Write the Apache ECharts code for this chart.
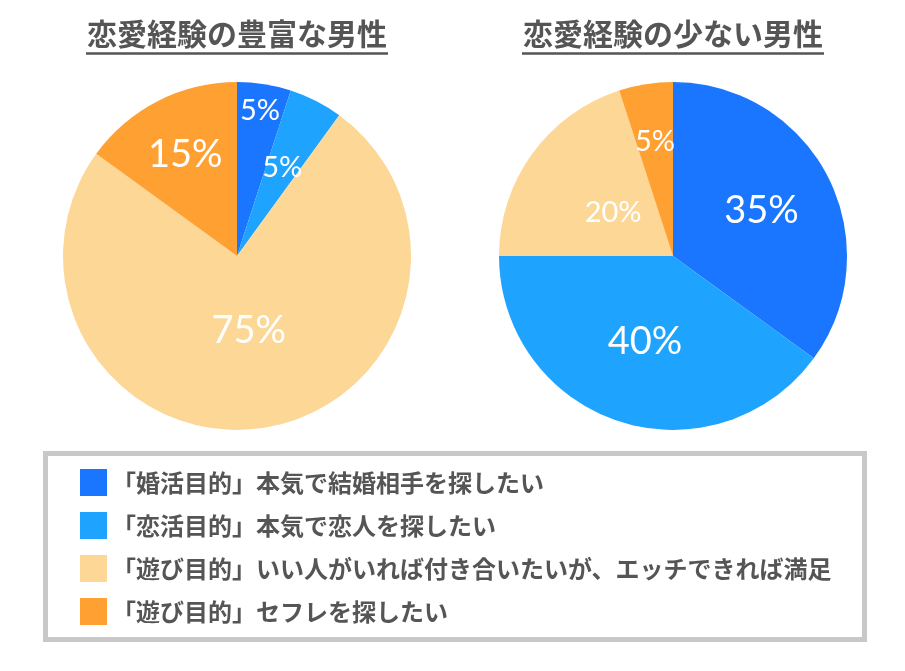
<!DOCTYPE html>
<html>
<head>
<meta charset="utf-8">
<script src="https://cdn.jsdelivr.net/npm/echarts@6/dist/echarts.min.js"></script>
<style>
  html, body { margin: 0; padding: 0; background: #ffffff; }
  #chart { width: 905px; height: 671px; }
</style>
</head>
<body>
<div id="chart"></div>
<script>
// ---- data ----
const categories = [
  '「婚活目的」本気で結婚相手を探したい',
  '「恋活目的」本気で恋人を探したい',
  '「遊び目的」いい人がいれば付き合いたいが、エッチできれば満足',
  '「遊び目的」セフレを探したい'
];
const experiencedValues = [5, 5, 75, 15];
const inexperiencedValues = [35, 40, 20, 5];
const chartTitles = ['恋愛経験の豊富な男性', '恋愛経験の少ない男性'];

// ---- styles ----
const colors = ['#1a75ff', '#1ea4ff', '#fdd795', '#ffa033'];
const pieCenters = [[237, 256], [673, 256]];
const pieRadius = 174;
const labelRadiusFactor = [[0.846, 0.573, 0.433, 0.656], [0.571, 0.52, 0.425, 0.664]];
const labelFontSizes = [[29, 29, 38, 38], [38, 38, 29, 29]];
const textGray = '#555555';

const seriesValues = [experiencedValues, inexperiencedValues];

function buildSeries(si) {
  return {
    type: 'pie',
    center: pieCenters[si],
    radius: pieRadius,
    startAngle: 90,
    clockwise: true,
    avoidLabelOverlap: false,
    silent: true,
    animation: false,
    label: {
      show: true,
      position: 'inside',
      color: '#ffffff',
      fontFamily: 'Lato',
      fontWeight: 'normal',
      formatter: '{c}%'
    },
    labelLine: { show: false },
    itemStyle: { borderWidth: 0 },
    emphasis: { disabled: true },
    data: seriesValues[si].map((v, i) => ({
      name: categories[i],
      value: v,
      itemStyle: { color: colors[i] },
      label: { fontSize: labelFontSizes[si][i] }
    })),
    labelLayout: function (params) {
      const vals = seriesValues[si];
      const total = vals.reduce((a, b) => a + b, 0);
      let before = 0;
      for (let k = 0; k < params.dataIndex; k++) before += vals[k];
      const mid = (before + vals[params.dataIndex] / 2) / total * 2 * Math.PI;
      const shift = labelRadiusFactor[si][params.dataIndex] * pieRadius - pieRadius / 2 - 3;
      return { dx: shift * Math.sin(mid), dy: -shift * Math.cos(mid) };
    }
  };
}

const chart = echarts.init(document.getElementById('chart'), null, { renderer: 'canvas' });

const graphics = [
  {
    type: 'rect',
    shape: { x: 45.5, y: 453.5, width: 819, height: 186 },
    style: { fill: 'none', stroke: '#c8c8c8', lineWidth: 5 },
    silent: true
  }
];
chartTitles.forEach((t, i) => {
  graphics.push({
    type: 'text',
    x: pieCenters[i][0],
    y: 34,
    style: {
      text: t,
      align: 'center',
      verticalAlign: 'middle',
      fill: textGray,
      font: 'bold 30px "Noto Sans CJK JP"'
    },
    silent: true
  });
  graphics.push({
    type: 'line',
    shape: { x1: pieCenters[i][0] - 151, y1: 53.5, x2: pieCenters[i][0] + 151, y2: 53.5 },
    style: { stroke: textGray, lineWidth: 2.5 },
    silent: true
  });
});

chart.setOption({
  backgroundColor: '#ffffff',
  animation: false,
  legend: {
    orient: 'vertical',
    left: 80,
    top: 469,
    padding: 0,
    itemWidth: 27,
    itemHeight: 27,
    itemGap: 16,
    icon: 'rect',
    selectedMode: false,
    data: categories,
    textStyle: {
      fontSize: 24,
      fontWeight: 'bold',
      color: textGray,
      fontFamily: '"Noto Sans CJK JP"'
    }
  },
  graphic: graphics,
  series: [buildSeries(0), buildSeries(1)]
});
</script>
</body>
</html>
